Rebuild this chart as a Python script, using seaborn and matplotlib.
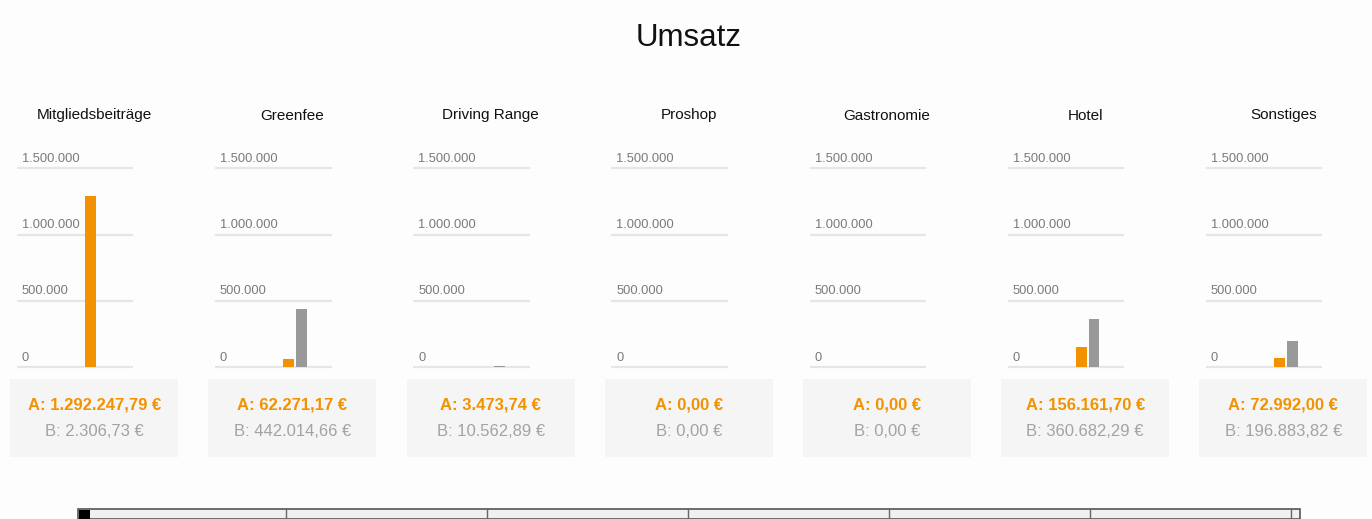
import matplotlib
matplotlib.use("Agg")
import matplotlib.pyplot as plt
import matplotlib.patches as mpatches
import seaborn as sns
import pandas as pd

# Revenue per business area, two series
categories = ["Mitgliedsbeiträge", "Greenfee", "Driving Range", "Proshop",
              "Gastronomie", "Hotel", "Sonstiges"]
series_names = ["A", "B"]
values_a = [1292247.79, 62271.17, 3473.74, 0.00, 0.00, 156161.70, 72992.00]
values_b = [2306.73, 442014.66, 10562.89, 0.00, 0.00, 360682.29, 196883.82]
y_ticks = [0, 500000, 1000000, 1500000]

ORANGE = "#f39200"
GRAY_BAR = "#999999"
GRAY_TEXT = "#a3a3a3"
GRID = "#e6e6e6"
BG = "#fdfdfd"


def de_int(v):
    return f"{int(v):,}".replace(",", ".")


def de_money(v):
    s = f"{v:,.2f}"
    s = s.replace(",", "X").replace(".", ",").replace("X", ".")
    return s + " €"


sns.set_theme(style="white")
plt.rcParams["font.family"] = ["Liberation Sans", "DejaVu Sans"]

W, H = 1372, 519
fig = plt.figure(figsize=(W / 100, H / 100), dpi=100, facecolor=BG)


def fx(px):
    return px / W


def fy(py):
    return 1 - py / H


fig.text(fx(689), fy(38), "Umsatz", ha="center", va="center",
         fontsize=22.5, color="#111111")

panel_left0 = 16.7
panel_step = 198.2
ax_w = 116.6
ymin, ymax = -20000, 1520000
ax_bottom_px, ax_top_px = 370.0, 165.6
px_per_unit_y = (ax_bottom_px - ax_top_px) / (ymax - ymin)
unit_px = 12.6
x0_px = 73.7

for i, cat in enumerate(categories):
    left = panel_left0 + i * panel_step
    ax = fig.add_axes([fx(left), fy(ax_bottom_px), ax_w / W,
                       (ax_bottom_px - ax_top_px) / H])
    ax.set_facecolor("none")
    df = pd.DataFrame({"Serie": series_names,
                       "Umsatz": [values_a[i], values_b[i]]})
    sns.barplot(data=df, x="Serie", y="Umsatz", hue="Serie",
                palette=[ORANGE, GRAY_BAR], width=0.85, legend=False,
                saturation=1, linewidth=0, ax=ax, zorder=3)
    ax.set_xlim(-x0_px / unit_px, (ax_w - x0_px) / unit_px)
    ax.set_ylim(ymin, ymax)
    for t in y_ticks:
        ax.axhline(t, color=GRID, lw=1.6, zorder=1)
        ax.text(5.0 / ax_w, t + 9.5 / px_per_unit_y, de_int(t),
                transform=ax.get_yaxis_transform(), ha="left", va="center",
                fontsize=9.3, color="#7a7a7a")
    ax.set_xticks([])
    ax.set_yticks([])
    ax.set_xlabel("")
    ax.set_ylabel("")
    for s in ax.spines.values():
        s.set_visible(False)

    box_left = left - 6.5
    box_w = 168
    box_center = box_left + box_w / 2
    fig.text(fx(box_center), fy(115.5), cat, ha="center", va="center",
             fontsize=11, color="#111111")
    fig.patches.append(mpatches.Rectangle(
        (fx(box_left), fy(457.3)), box_w / W, (457.3 - 379.3) / H,
        transform=fig.transFigure, facecolor="#f5f5f5", edgecolor="none",
        zorder=0))
    fig.text(fx(box_center), fy(405), "A: " + de_money(values_a[i]),
             ha="center", va="center", fontsize=12, fontweight="bold",
             color=ORANGE)
    fig.text(fx(box_center), fy(431), "B: " + de_money(values_b[i]),
             ha="center", va="center", fontsize=12, color=GRAY_TEXT)

# Strip along the bottom edge
strip_left, strip_right, strip_top = 78, 1300, 508.5
fig.patches.append(mpatches.Rectangle(
    (fx(strip_left), 0), (strip_right - strip_left) / W, (H - strip_top) / H,
    transform=fig.transFigure, facecolor="#f0f0f0", edgecolor="#555555",
    lw=1.2, zorder=1))
for xp in [286, 487, 688, 889, 1090, 1291]:
    fig.lines.append(plt.Line2D([fx(xp), fx(xp)], [0, fy(strip_top)],
                                transform=fig.transFigure, color="#666666",
                                lw=1.0, zorder=2))
fig.patches.append(mpatches.Rectangle(
    (fx(79), 0), 11 / W, (H - 510) / H, transform=fig.transFigure,
    facecolor="#000000", edgecolor="none", zorder=3))

fig.savefig("out.png", dpi=100, facecolor=BG)
